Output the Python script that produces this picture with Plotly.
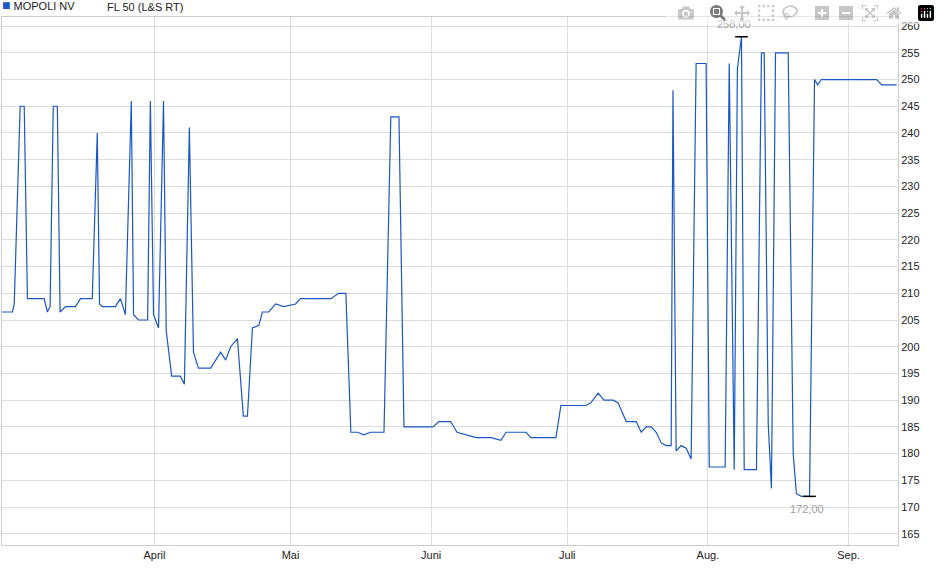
import plotly.graph_objects as go
import pandas as pd

# day offsets from 1 April
day_offsets = [-33.6, -31.3, -30.9, -29.6, -28.7, -28.0, -24.3, -23.6, -23.0, -22.3, -21.4, -20.8,
               -19.6, -17.4, -16.3, -13.7, -12.6, -12.1, -11.5, -8.6, -7.5, -6.4, -5.1, -4.6,
               -3.5, -1.5, -0.9, -0.2, 0.9, 2.0, 2.6, 3.8, 5.7, 6.6, 7.7, 8.6, 9.7, 12.4,
               14.6, 15.7, 16.8, 18.3, 19.6, 20.5, 21.6, 23.0, 23.8, 25.2, 26.7, 28.5, 31.1,
               32.2, 36.6, 38.9, 40.6, 42.2, 43.3, 44.8, 46.1, 47.7, 50.6, 52.1, 53.9, 55.0,
               58.7, 61.4, 62.7, 65.3, 66.7, 68.7, 70.9, 74.2, 76.4, 77.5, 79.0, 80.8, 81.9,
               83.0, 85.2, 88.5, 89.6, 91.8, 95.1, 96.2, 97.8, 99.1, 101.1, 102.2, 104.0,
               106.2, 107.3, 108.4, 109.5, 110.6, 111.7, 112.8, 113.9, 114.3, 115.0, 116.1,
               117.2, 118.3, 119.4, 121.6, 122.3, 125.8, 126.7, 127.8, 128.5, 129.4, 130.0,
               132.7, 133.8, 134.4, 135.3, 136.0, 136.9, 139.7, 140.8, 141.5, 142.6, 144.4,
               145.5, 146.2, 147.0, 159.2, 160.3, 163.6]
prices = [206.5, 206.5, 208, 245, 245, 209, 209, 206.5, 207.5, 245, 245, 206.5,
          207.5, 207.5, 209, 209, 240, 208, 207.5, 207.5, 209, 206, 246, 206,
          205, 205, 246, 206, 203.5, 246, 203, 194.5, 194.5, 193, 241, 199, 196, 196,
          199, 197.5, 200, 201.5, 187, 187, 203.5, 204, 206.5, 206.5, 208, 207.5, 208,
          209, 209, 209, 210, 210, 184, 184, 183.5, 184, 184, 243, 243, 185,
          185, 185, 186, 186, 184, 183.5, 183, 183, 182.5, 184, 184, 184, 184,
          183, 183, 183, 189, 189, 189, 189.5, 191.3, 190, 190, 189.5, 186,
          186, 184, 185, 185, 184, 182, 181.5, 181.5, 248, 180.5, 181.5,
          181, 179, 253, 253, 177.5, 177.5, 253, 177, 252, 258, 177,
          177, 255, 255, 185.5, 173.5, 255, 255, 180, 172.5, 172, 172,
          250, 249, 250, 250, 249, 249]

base = pd.Timestamp("2024-04-01")
dates = [base + pd.Timedelta(days=d) for d in day_offsets]

month_ticks = ["2024-04-01", "2024-05-01", "2024-06-01", "2024-07-01", "2024-08-01", "2024-09-01"]
month_labels = ["April", "Mai", "Juni", "Juli", "Aug.", "Sep."]

hi_i = prices.index(max(prices))
lo_i = len(prices) - 1 - prices[::-1].index(min(prices))

fig = go.Figure()
fig.add_trace(go.Scatter(x=dates, y=prices, mode="lines",
                         line=dict(color="#1a56c4", width=1.2), hoverinfo="x+y"))
fig.add_trace(go.Scatter(x=[dates[hi_i], dates[lo_i]], y=[max(prices), min(prices)],
                         mode="markers", marker=dict(symbol="line-ew", size=9,
                                                     line=dict(color="black", width=1.5))))

fig.add_annotation(x=dates[hi_i], y=max(prices), text=f"{max(prices):.2f}".replace(".", ","),
                   showarrow=False, yshift=13, xshift=-7, font=dict(color="#a0a0a0", size=11))
fig.add_annotation(x=dates[lo_i], y=min(prices), text=f"{min(prices):.2f}".replace(".", ","),
                   showarrow=False, yshift=-13, xshift=-3, font=dict(color="#a0a0a0", size=11))

fig.add_annotation(xref="paper", yref="paper", x=0, y=1, xshift=-2, yanchor="bottom", yshift=2,
                   xanchor="left", showarrow=False,
                   text="<span style='color:#1a56c4;font-size:14px'>■</span> MOPOLI NV",
                   font=dict(size=11, color="#222"))
fig.add_annotation(xref="paper", yref="paper", x=0, xshift=103, y=1, yanchor="bottom", yshift=2,
                   xanchor="left", showarrow=False, text="FL 50 (L&S RT)",
                   font=dict(size=11, color="#222"))

fig.update_xaxes(range=[dates[0], base + pd.Timedelta(days=163.9)],
                 tickvals=month_ticks, ticktext=month_labels,
                 showgrid=True, gridcolor="#dcdcdc", showline=True, linecolor="#cccccc", mirror=True,
                 ticks="", zeroline=False)
fig.update_yaxes(side="right", range=[162.9, 261.7], dtick=5, tick0=165,
                 showgrid=True, gridcolor="#dcdcdc", showline=True, linecolor="#cccccc", mirror=True,
                 zeroline=False)
fig.update_layout(width=940, height=579, showlegend=False,
                  plot_bgcolor="white", paper_bgcolor="white",
                  font=dict(family="Liberation Sans, Arial", size=11, color="#222"),
                  margin=dict(l=2, r=42, t=17, b=34))

fig.write_html("out.html", post_script="document.body.style.margin='0';")
